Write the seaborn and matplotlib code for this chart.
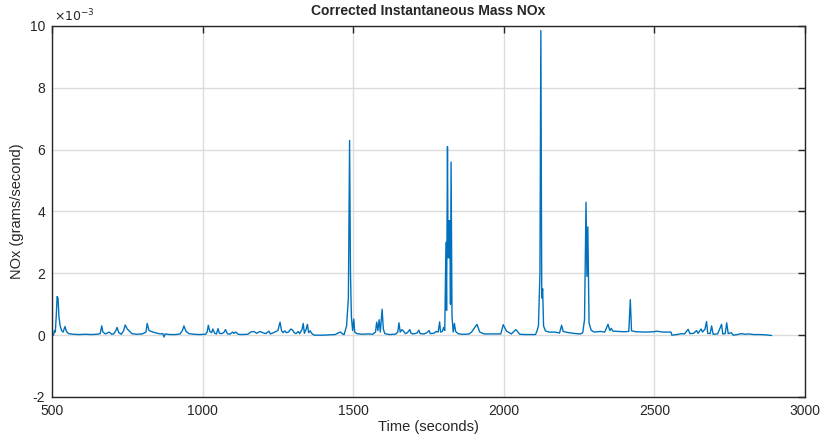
import numpy as np
import pandas as pd
import matplotlib
matplotlib.use("Agg")
import matplotlib.pyplot as plt
import seaborn as sns
from matplotlib.ticker import FuncFormatter

time_s = [505, 508, 511, 514, 517, 520, 523, 527, 532, 537, 543, 548, 555, 570, 590, 610, 630, 650,
          660, 665, 669, 678, 690, 698, 705, 712, 716, 722, 730, 738, 743, 750, 758, 765, 780, 800,
          812, 816, 822, 835, 850, 860, 868, 872, 876, 890, 910, 925, 933, 938, 945, 955, 970, 990,
          1010, 1015, 1019, 1024, 1030, 1034, 1040, 1046, 1051, 1056, 1063, 1070, 1076, 1082, 1090,
          1100, 1104, 1110, 1118, 1130, 1150, 1160, 1170, 1180, 1190, 1200, 1210, 1220, 1225, 1240,
          1250, 1257, 1262, 1267, 1273, 1278, 1285, 1293, 1300, 1304, 1310, 1318, 1322, 1330, 1334,
          1338, 1344, 1348, 1352, 1357, 1362, 1370, 1380, 1400, 1420, 1440, 1452, 1458, 1464, 1470,
          1478, 1484, 1488, 1491, 1494, 1498, 1502, 1505, 1512, 1530, 1550, 1565, 1574, 1578, 1582,
          1586, 1590, 1596, 1600, 1605, 1620, 1640, 1648, 1652, 1656, 1662, 1668, 1673, 1680, 1688,
          1692, 1700, 1712, 1718, 1722, 1735, 1745, 1752, 1756, 1768, 1775, 1782, 1787, 1790, 1796,
          1800, 1804, 1808, 1810, 1813, 1815, 1817, 1819, 1821, 1823, 1825, 1828, 1832, 1836, 1840,
          1848, 1860, 1875, 1885, 1893, 1911, 1920, 1935, 1960, 1990, 1998, 2009, 2025, 2040, 2053,
          2070, 2090, 2105, 2109, 2115, 2120, 2123, 2126, 2129, 2132, 2138, 2150, 2170, 2185, 2192,
          2197, 2215, 2240, 2255, 2262, 2268, 2273, 2276, 2279, 2283, 2290, 2300, 2320, 2335, 2346,
          2352, 2357, 2362, 2380, 2400, 2415, 2420, 2424, 2440, 2470, 2500, 2505, 2530, 2555, 2558,
          2575, 2590, 2600, 2612, 2618, 2630, 2640, 2645, 2655, 2660, 2668, 2673, 2677, 2685, 2690,
          2695, 2710, 2723, 2727, 2735, 2740, 2745, 2755, 2762, 2775, 2790, 2800, 2815, 2830, 2850,
          2870, 2889]

nox_milli = [0.0, 0.15, 0.1, 0.6, 1.25, 1.2, 0.6, 0.3, 0.15, 0.1, 0.28, 0.12, 0.05, 0.03, 0.02, 0.03, 0.02, 0.03,
             0.05, 0.3, 0.1, 0.04, 0.1, 0.03, 0.04, 0.15, 0.25, 0.08, 0.03, 0.15, 0.33, 0.2, 0.12, 0.05, 0.03, 0.04,
             0.1, 0.38, 0.15, 0.1, 0.06, 0.04, 0.05, -0.06, 0.04, 0.02, 0.02, 0.04, 0.15, 0.3, 0.12, 0.05, 0.03, 0.02,
             0.03, 0.1, 0.32, 0.12, 0.08, 0.2, 0.06, 0.04, 0.21, 0.06, 0.05, 0.08, 0.18, 0.05, 0.03,
             0.1, 0.06, 0.1, 0.03, 0.02, 0.03, 0.1, 0.12, 0.06, 0.12, 0.08, 0.05, 0.13, 0.04, 0.1,
             0.15, 0.42, 0.15, 0.08, 0.14, 0.08, 0.1, 0.2, 0.15, 0.08, 0.05, 0.12, 0.05, 0.18, 0.38,
             0.06, 0.2, 0.35, 0.08, 0.14, 0.06, 0.0, 0.0, 0.0, 0.01, 0.02, 0.08, 0.1, 0.04, 0.02,
             0.3, 1.2, 6.3, 2.0, 0.6, 0.15, 0.52, 0.1, 0.05, 0.03, 0.04, 0.03, 0.1, 0.42, 0.15,
             0.5, 0.1, 0.84, 0.2, 0.05, 0.02, 0.03, 0.1, 0.4, 0.1, 0.18, 0.12, 0.05, 0.08, 0.18,
             0.06, 0.04, 0.07, 0.16, 0.05, 0.04, 0.08, 0.15, 0.05, 0.06, 0.12, 0.1, 0.43, 0.1, 0.12,
             0.25, 0.15, 3.0, 0.8, 6.1, 2.5, 3.7, 2.5, 3.7, 1.0, 5.6, 0.6, 0.1, 0.38, 0.12,
             0.05, 0.03, 0.03, 0.04, 0.1, 0.35, 0.1, 0.04, 0.04, 0.04, 0.34, 0.13, 0.04, 0.18, 0.03,
             0.02, 0.02, 0.02, 0.1, 0.3, 2.0, 9.85, 1.2, 1.5, 0.3, 0.14, 0.1, 0.1, 0.07, 0.32,
             0.12, 0.08, 0.05, 0.04, 0.08, 0.5, 4.3, 1.9, 3.5, 0.4, 0.16, 0.1, 0.12, 0.1, 0.35,
             0.15, 0.22, 0.13, 0.12, 0.11, 0.12, 1.15, 0.14, 0.11, 0.1, 0.11, 0.13, 0.1, 0.1, 0.0,
             0.02, 0.05, 0.04, 0.19, 0.05, 0.06, 0.15, 0.06, 0.2, 0.1, 0.2, 0.44, 0.06, 0.05, 0.3,
             0.03, 0.04, 0.35, 0.04, 0.05, 0.4, 0.05, 0.08, 0.0, 0.02, 0.05, 0.03, 0.04, 0.02, 0.02,
             0.01, -0.01]

x_ticks = [500, 1000, 1500, 2000, 2500, 3000]
y_ticks_milli = [-2, 0, 2, 4, 6, 8, 10]

df = pd.DataFrame({"Time": time_s, "NOx": np.array(nox_milli) * 1e-3})

sns.set_style("white")
plt.rcParams["font.family"] = ["Liberation Sans", "DejaVu Sans"]
plt.rcParams["axes.unicode_minus"] = False

fig = plt.figure(figsize=(8.22, 4.37), dpi=100)
ax = fig.add_axes([52 / 822, 1 - 397 / 437, (805 - 52) / 822, (397 - 26) / 437])

sns.lineplot(data=df, x="Time", y="NOx", ax=ax, color="#0072BD", linewidth=1.0,
             estimator=None, sort=False)

ax.set_xlim(500, 3000)
ax.set_ylim(-0.002, 0.010)
ax.set_xticks(x_ticks)
ax.set_yticks(np.array(y_ticks_milli) * 1e-3)
ax.yaxis.set_major_formatter(FuncFormatter(lambda v, _: f"{round(v * 1e3):d}"))

ax.grid(True, color="#dcdcdc", linewidth=1.0)
ax.set_axisbelow(True)
for s in ax.spines.values():
    s.set_visible(True)
    s.set_color("#262626")
    s.set_linewidth(1.0)
ax.tick_params(direction="in", top=True, right=True, length=5, width=1,
               colors="#262626", labelsize=10, pad=5)

ax.text(0.003, 1.004, r"$\times10^{-3}$", transform=ax.transAxes, ha="left", va="bottom",
        fontsize=9, color="#262626")

ax.set_title("Corrected Instantaneous Mass NOx", fontsize=10, fontweight="bold", pad=8)
ax.set_xlabel("Time (seconds)", fontsize=10.5, color="#262626")
ax.set_ylabel("NOx (grams/second)", fontsize=10.5, color="#262626")
ax.xaxis.set_label_coords(0.5, -0.063)
ax.yaxis.set_label_coords(-0.037, 0.5)

fig.savefig("out.png", dpi=100)
